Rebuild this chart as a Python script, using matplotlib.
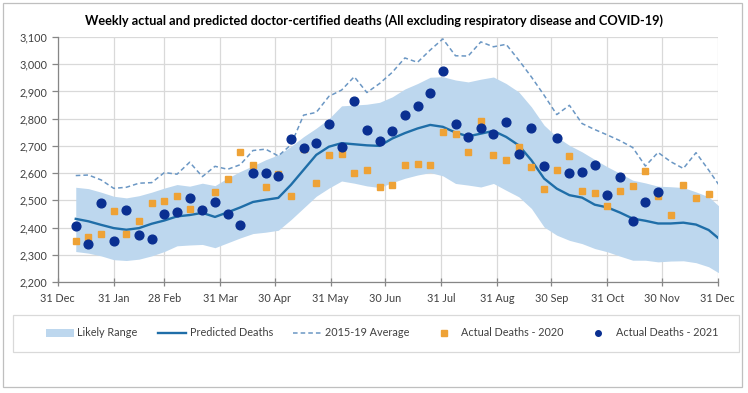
import numpy as np
import matplotlib.pyplot as plt
from matplotlib.patches import Patch, Rectangle
from matplotlib.lines import Line2D
from matplotlib.ticker import FuncFormatter

plt.rcParams['font.family'] = ['Lato', 'DejaVu Sans']

# days after 31 Dec 2020, one point per week
week_day = 10 + 7 * np.arange(52)

predicted = [2432, 2423, 2410, 2398, 2392, 2398, 2414, 2426, 2441, 2446,
             2454, 2439, 2456, 2474, 2494, 2502, 2509, 2557, 2612, 2667,
             2697, 2710, 2706, 2702, 2700, 2727, 2747, 2764, 2777, 2770,
             2749, 2735, 2745, 2755, 2733, 2702, 2647, 2580, 2543, 2519,
             2510, 2484, 2474, 2455, 2433, 2425, 2415, 2415, 2418, 2411,
             2391, 2352]
range_hi = [2548, 2543, 2530, 2515, 2509, 2517, 2530, 2545, 2558, 2552,
            2563, 2554, 2582, 2606, 2627, 2649, 2667, 2698, 2734, 2765,
            2800, 2847, 2850, 2853, 2860, 2880, 2909, 2929, 2952, 2954,
            2942, 2935, 2945, 2953, 2929, 2898, 2843, 2776, 2733, 2702,
            2678, 2650, 2623, 2599, 2574, 2564, 2552, 2550, 2547, 2531,
            2513, 2471]
range_lo = [2312, 2306, 2296, 2282, 2279, 2284, 2296, 2312, 2333, 2336,
            2338, 2326, 2344, 2362, 2378, 2383, 2390, 2429, 2472, 2515,
            2545, 2571, 2563, 2553, 2547, 2565, 2581, 2593, 2602, 2590,
            2562, 2556, 2549, 2562, 2537, 2513, 2470, 2402, 2372, 2353,
            2341, 2323, 2311, 2295, 2280, 2280, 2274, 2277, 2278, 2271,
            2256, 2228]
avg_1519 = [2591, 2593, 2575, 2544, 2548, 2563, 2565, 2602, 2596, 2640,
            2587, 2625, 2614, 2631, 2683, 2688, 2663, 2704, 2813, 2823,
            2882, 2905, 2954, 2896, 2929, 2970, 3023, 3007, 3052, 3093,
            3031, 3030, 3082, 3064, 3073, 3015, 2953, 2886, 2815, 2849,
            2782, 2760, 2740, 2719, 2694, 2626, 2676, 2642, 2617, 2675,
            2611, 2544]
actual_2020 = [2352, 2367, 2375, 2462, 2378, 2425, 2490, 2499, 2517, 2468,
               2463, 2530, 2579, 2676, 2630, 2550, 2595, 2517, 2688, 2562,
               2666, 2669, 2602, 2610, 2549, 2558, 2631, 2635, 2631, 2750,
               2743, 2676, 2791, 2666, 2647, 2696, 2623, 2542, 2611, 2663,
               2536, 2526, 2479, 2533, 2552, 2607, 2517, 2446, 2558, 2508,
               2525]
actual_2021 = [2405, 2340, 2490, 2350, 2463, 2372, 2359, 2450, 2458, 2509,
               2463, 2493, 2450, 2409, 2602, 2602, 2589, 2724, 2694, 2712,
               2782, 2696, 2864, 2758, 2718, 2755, 2814, 2846, 2895, 2974,
               2782, 2733, 2767, 2742, 2786, 2669, 2767, 2625, 2729, 2602,
               2603, 2630, 2518, 2584, 2424, 2495, 2531]

tick_days = [0, 31, 59, 90, 120, 151, 181, 212, 243, 273, 304, 334, 365]
tick_labels = ['31 Dec', '31 Jan', '28 Feb', '31 Mar', '30 Apr', '31 May',
               '30 Jun', '31 Jul', '31 Aug', '30 Sep', '31 Oct', '30 Nov', '31 Dec']

c_band = '#bdd7ee'
c_pred = '#1f6ea8'
c_avg = '#6b97c4'
c_2020 = '#eea236'
c_2021 = '#0a2f91'

fig = plt.figure(figsize=(7.48, 3.93), dpi=100)
ax = fig.add_axes([0.0771, 0.2824, 0.8824, 0.6235])

ax.fill_between(week_day, range_lo, range_hi, color=c_band, lw=0, zorder=1)
ax.plot(week_day, avg_1519, color=c_avg, lw=1.1, ls=(0, (3, 2)), zorder=2)
ax.plot(week_day, predicted, color=c_pred, lw=1.7, zorder=3)
ax.plot(week_day[:len(actual_2020)], actual_2020, ls='none', marker='s',
        ms=4.3, color=c_2020, zorder=4)
ax.plot(week_day[:len(actual_2021)], actual_2021, ls='none', marker='o',
        ms=6.3, color=c_2021, zorder=5)

ax.set_xlim(0, 365)
ax.set_ylim(2200, 3100)
ax.set_yticks(np.arange(2200, 3101, 100))
ax.yaxis.set_major_formatter(FuncFormatter(lambda v, p: f'{int(v):,}'))
ax.set_xticks(tick_days)
ax.set_xticklabels(tick_labels)
ax.grid(True, color='#d9d9d9', lw=0.9, zorder=0)
ax.set_axisbelow(True)
for s in ['top', 'right']:
    ax.spines[s].set_visible(False)
for s in ['left', 'bottom']:
    ax.spines[s].set_color('#868686')
    ax.spines[s].set_linewidth(0.9)
ax.tick_params(axis='both', colors='#868686', labelcolor='#404040',
               labelsize=7.8, length=4, width=0.9)
ax.tick_params(axis='x', direction='inout', length=6, pad=5)

fig.text(0.5, 0.947, 'Weekly actual and predicted doctor-certified deaths '
         '(All excluding respiratory disease and COVID-19)',
         ha='center', va='center', fontsize=9.2, fontweight='bold', color='#000000')

# legend box (drawn separately), legend entries spread inside it
fig.patches.append(Rectangle((13 / 748, 1 - 352 / 393), 726 / 748, 37 / 393,
                             transform=fig.transFigure, fill=False,
                             edgecolor='#d9d9d9', lw=0.9))
handles = [Patch(facecolor=c_band, edgecolor='none'),
           Line2D([], [], color=c_pred, lw=1.7),
           Line2D([], [], color=c_avg, lw=1.1, ls=(0, (3, 2))),
           Line2D([], [], color=c_2020, ls='none', marker='s', ms=4.0),
           Line2D([], [], color=c_2021, ls='none', marker='o', ms=4.0)]
labels = ['Likely Range', 'Predicted Deaths', '2015-19 Average',
          'Actual Deaths - 2020', 'Actual Deaths - 2021']
leg = fig.legend(handles, labels, loc='center', ncol=5, mode='expand',
                 bbox_to_anchor=(46 / 748, 1 - 345 / 393, 672 / 748, 24 / 393),
                 frameon=False, fontsize=7.8, handlelength=2.6,
                 handletextpad=0.3, borderpad=0, borderaxespad=0)
for t in leg.get_texts():
    t.set_color('#404040')

# outer chart frame
fig.patches.append(Rectangle((0.0044, 0.015), 0.987, 0.978, transform=fig.transFigure,
                             fill=False, edgecolor='#bfbfbf', lw=0.9))

fig.savefig('out.png', dpi=100)
